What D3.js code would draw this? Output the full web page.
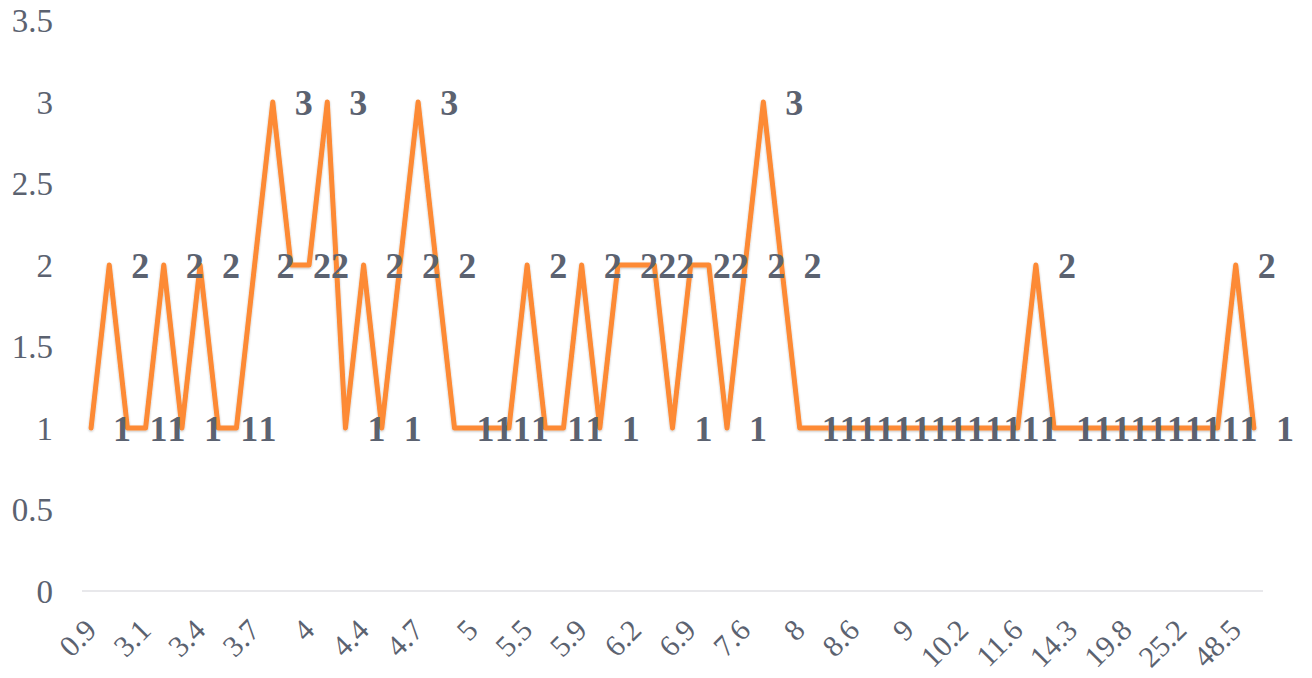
<!DOCTYPE html>
<html>
<head>
<meta charset="utf-8">
<script src="https://cdn.jsdelivr.net/npm/d3@7"></script>
<style>
  html, body { margin: 0; padding: 0; background: #ffffff; }
  svg { display: block; }
</style>
</head>
<body>
<svg id="chart" width="1312" height="678"></svg>
<script>
// ---- data ----
const categories = [
  "0.9","2.3","2.8","3.1","3.2","3.3","3.4","3.5","3.6","3.7",
  "3.8","3.9","4","4.1","4.2","4.4","4.5","4.6","4.7","4.8",
  "4.9","5","5.2","5.4","5.5","5.6","5.8","5.9","6","6.1",
  "6.2","6.4","6.7","6.9","7.1","7.4","7.6","7.7","7.8","8",
  "8.2","8.4","8.6","8.7","8.8","9","9.4","9.8","10.2","10.6",
  "11.1","11.6","12.3","13.1","14.3","15.8","17.6","19.8","21.5","23.4",
  "25.2","29.7","36.1","48.5","62.4"
];
const values = [
  1,2,1,1,2,1,2,1,1,2,
  3,2,2,3,1,2,1,2,3,2,
  1,1,1,1,2,1,1,2,1,2,
  2,2,1,2,2,1,2,3,2,1,
  1,1,1,1,1,1,1,1,1,1,
  1,1,2,1,1,1,1,1,1,1,
  1,1,1,2,1
];
const yTicks = [0, 0.5, 1, 1.5, 2, 2.5, 3, 3.5];
const xTickEvery = 3;

// ---- layout ----
const svg = d3.select("#chart");
const mLeft = 82, mRight = 1263, mTop = 20.5, mBottom = 591;
const textColor = "#5b6270";
const lineColor = "#fd8a35";
const tickFont = "'Liberation Serif', 'DejaVu Serif', serif";
const labelFont = "'Liberation Serif', 'DejaVu Serif', serif";

const x = d3.scaleBand().domain(categories).range([mLeft, mRight]).paddingInner(0).paddingOuter(0);
const y = d3.scaleLinear().domain([0, 3.5]).range([mBottom, mTop]);
const cx = c => x(c) + x.bandwidth() / 2;

// baseline gridline
svg.append("line")
  .attr("x1", mLeft).attr("x2", mRight)
  .attr("y1", y(0)).attr("y2", y(0))
  .attr("stroke", "#e0e0e4").attr("stroke-width", 1.5);

// y axis
const yAxis = d3.axisLeft(y).tickValues(yTicks).tickSize(0).tickPadding(0).tickFormat(d3.format("~g"));
const yg = svg.append("g").attr("transform", `translate(53,0)`).call(yAxis);
yg.select(".domain").remove();
yg.selectAll("text")
  .attr("font-family", tickFont).attr("font-size", 33)
  .attr("fill", textColor).attr("dy", "0.34em");

// x axis
const xAxis = d3.axisBottom(x)
  .tickValues(categories.filter((d, i) => i % xTickEvery === 0))
  .tickSize(0).tickPadding(0);
const xg = svg.append("g").attr("transform", `translate(0,${mBottom})`).call(xAxis);
xg.select(".domain").remove();
xg.selectAll("text")
  .attr("font-family", tickFont).attr("font-size", 30)
  .attr("fill", textColor)
  .attr("text-anchor", "end")
  .attr("dy", 0).attr("y", 0)
  .attr("transform", "translate(7,41) rotate(-45)");

// shadow filter
const defs = svg.append("defs");
const f = defs.append("filter").attr("id", "shadow").attr("x", "-5%").attr("y", "-5%").attr("width", "110%").attr("height", "110%");
f.append("feDropShadow").attr("dx", 0).attr("dy", 1).attr("stdDeviation", 1.2)
  .attr("flood-color", "#000").attr("flood-opacity", 0.25);

// line
const line = d3.line().x((d, i) => cx(categories[i])).y(d => y(d));
svg.append("path")
  .datum(values)
  .attr("d", line)
  .attr("fill", "none")
  .attr("stroke", lineColor)
  .attr("stroke-width", 5)
  .attr("stroke-linejoin", "round")
  .attr("stroke-linecap", "round")
  .attr("filter", "url(#shadow)");

// data labels
svg.append("g").selectAll("text")
  .data(values)
  .join("text")
  .attr("x", (d, i) => cx(categories[i]) + 22)
  .attr("y", d => y(d) + 13)
  .attr("font-family", labelFont).attr("font-weight", "bold").attr("font-size", 36)
  .attr("fill", textColor)
  .text(d => d);
</script>
</body>
</html>
